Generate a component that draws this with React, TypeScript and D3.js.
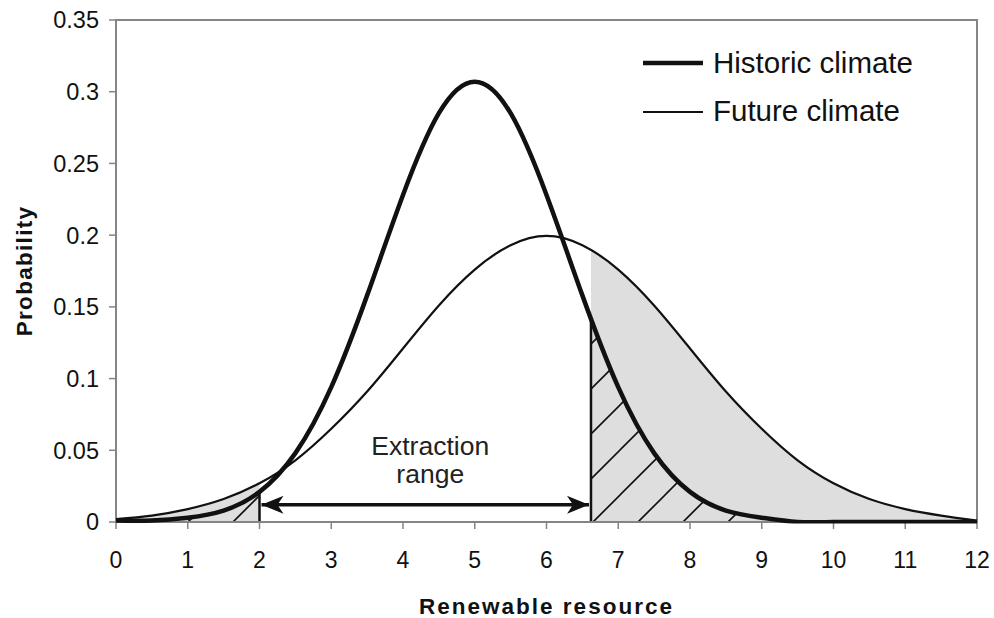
import React from 'react';
import * as d3 from 'd3';

// values (probability at each half unit of resource)
const resource = [0, 0.5, 1, 1.5, 2, 2.5, 3, 3.5, 4, 4.5, 5, 5.5, 6, 6.5, 7, 7.5, 8, 8.5, 9, 9.5, 10, 10.5, 11, 11.5, 12];
const historic = [0.001, 0.001, 0.003, 0.008, 0.021, 0.048, 0.094, 0.158, 0.228, 0.285, 0.307, 0.285, 0.228, 0.158, 0.094, 0.048, 0.021, 0.008, 0.003, 0, 0, 0, 0, 0, 0];
const future = [0.002, 0.0045, 0.009, 0.016, 0.027, 0.043, 0.065, 0.091, 0.121, 0.151, 0.176, 0.193, 0.1995, 0.193, 0.176, 0.151, 0.121, 0.091, 0.065, 0.043, 0.027, 0.016, 0.009, 0.0045, 0.001];
const extraction = [2, 6.62];
const xTicks = [0, 1, 2, 3, 4, 5, 6, 7, 8, 9, 10, 11, 12];
const yTicks = [0, 0.05, 0.1, 0.15, 0.2, 0.25, 0.3, 0.35];
const yTickLabels = ['0', '0.05', '0.1', '0.15', '0.2', '0.25', '0.3', '0.35'];

const W = 994;
const H = 618;
const margin = { left: 116, right: 17, top: 20, bottom: 96 };
const FONT = '"Liberation Sans", Arial, sans-serif';

export default function App() {
  const x = d3.scaleLinear().domain([0, 12]).range([margin.left, W - margin.right]);
  const y = d3.scaleLinear().domain([0, 0.35]).range([H - margin.bottom, margin.top]);
  const y0 = y(0);

  const histPts = resource.map((r, i) => [r, historic[i]] as [number, number]);
  const futPts = resource.map((r, i) => [r, future[i]] as [number, number]);

  const curve = d3.curveNatural;
  const line = d3.line<[number, number]>().x(d => x(d[0])).y(d => y(d[1])).curve(curve);
  const area = d3.area<[number, number]>().x(d => x(d[0])).y0(y0).y1(d => y(d[1])).curve(curve);

  const [lo, hi] = extraction;
  const arrowY = y(0.012);
  const midX = (x(lo) + x(hi)) / 2;

  return (
    <svg width={W} height={H} style={{ position: 'absolute', left: 0, top: 0, background: '#fff' }} fontFamily={FONT}>
      <defs>
        <clipPath id="tails">
          <rect x={x(0)} y={margin.top} width={x(lo) - x(0)} height={y0 - margin.top} />
          <rect x={x(hi)} y={margin.top} width={x(12) - x(hi)} height={y0 - margin.top} />
        </clipPath>
        <clipPath id="plot">
          <rect x={x(0) - 4} y={margin.top} width={x(12) - x(0) + 8} height={y0 - margin.top + 1.5} />
        </clipPath>
        <clipPath id="underHist">
          <path d={area(histPts) || ''} />
        </clipPath>
        <pattern id="hatch" patternUnits="userSpaceOnUse" width={45} height={45} x={35} y={0}>
          <path d="M0,45 L45,0 M-10,10 L10,-10 M35,55 L55,35" stroke="#111" strokeWidth={1.6} />
        </pattern>
        <marker id="ah" viewBox="0 0 22 18" refX={22} refY={9} markerWidth={22} markerHeight={18} markerUnits="userSpaceOnUse" orient="auto-start-reverse">
          <path d="M0,0 L22,9 L0,18 L6,9 Z" fill="#111" />
        </marker>
      </defs>

      {/* shaded tails */}
      <g clipPath="url(#tails)">
        <path d={area(futPts) || ''} fill="#dedede" />
        <path d={area(histPts) || ''} fill="url(#hatch)" />
      </g>

      {/* extraction bounds, up to the historic curve */}
      <g clipPath="url(#underHist)">
        {extraction.map(v => (
          <line key={v} x1={x(v)} x2={x(v)} y1={y0} y2={margin.top} stroke="#111" strokeWidth={2.5} />
        ))}
      </g>

      {/* frame and axes */}
      <rect x={x(0)} y={margin.top} width={x(12) - x(0)} height={y0 - margin.top} fill="none" stroke="#858585" strokeWidth={2} />
      {yTicks.map((t, i) => (
        <g key={t}>
          <line x1={x(0) - 7} x2={x(0)} y1={y(t)} y2={y(t)} stroke="#858585" strokeWidth={1.5} />
          <text x={x(0) - 17} y={y(t)} dy="0.36em" textAnchor="end" fontSize={23.5} fill="#111">{yTickLabels[i]}</text>
        </g>
      ))}
      {xTicks.map(t => (
        <g key={t}>
          <line x1={x(t)} x2={x(t)} y1={y0} y2={y0 + 7} stroke="#858585" strokeWidth={1.5} />
          <text x={x(t)} y={568} textAnchor="middle" fontSize={23} fill="#111">{t}</text>
        </g>
      ))}

      {/* curves */}
      <g clipPath="url(#plot)">
        <path d={line(futPts) || ''} fill="none" stroke="#111" strokeWidth={2.2} />
        <path d={line(histPts) || ''} fill="none" stroke="#111" strokeWidth={4.5} />
      </g>

      {/* extraction range arrow */}
      <line x1={x(lo) + 2} x2={x(hi) - 2} y1={arrowY} y2={arrowY} stroke="#111" strokeWidth={3.5}
        markerStart="url(#ah)" markerEnd="url(#ah)" />
      <text x={midX + 5} y={455} textAnchor="middle" fontSize={26.5} fill="#222">Extraction</text>
      <text x={midX + 5} y={483} textAnchor="middle" fontSize={26.5} fill="#222">range</text>

      {/* legend */}
      <line x1={643} x2={703} y1={63} y2={63} stroke="#111" strokeWidth={4.5} />
      <text x={713} y={73} fontSize={29.5} fill="#111">Historic climate</text>
      <line x1={643} x2={703} y1={112} y2={112} stroke="#111" strokeWidth={2.2} />
      <text x={713} y={121} fontSize={29.5} fill="#111">Future climate</text>

      {/* axis titles */}
      <text x={(x(0) + x(12)) / 2} y={614} textAnchor="middle" fontSize={22.5} fontWeight="bold" letterSpacing={2} fill="#111">Renewable resource</text>
      <text transform={`translate(32,${(margin.top + y0) / 2}) rotate(-90)`} textAnchor="middle" fontSize={22.5} fontWeight="bold" letterSpacing={1.3} fill="#111">Probability</text>
    </svg>
  );
}
